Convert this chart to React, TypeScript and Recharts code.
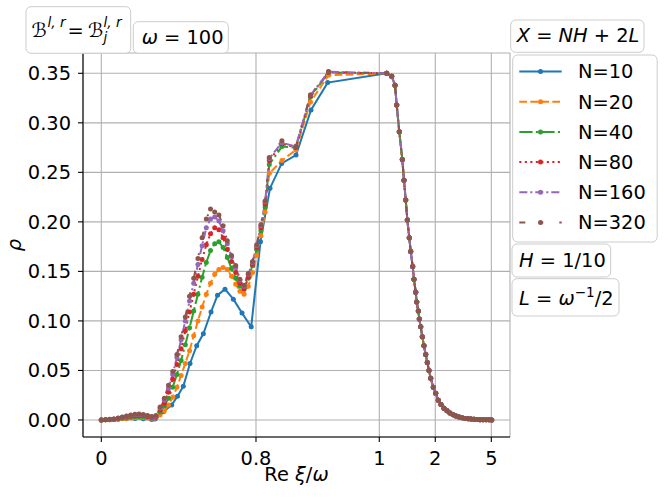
import React from 'react';
import { LineChart, Line, XAxis, YAxis, CartesianGrid } from 'recharts';

const W = 670;
const H = 498;
const FONT = 'DejaVu Sans';
const FS = 19.4;

// axis coordinate: sample slot along the (non-uniform) Re xi / omega grid
const X_MIN = -4.36;
const X_MAX = 97.31;
const Y_MIN = -0.0172;
const Y_MAX = 0.3705;

const xTickSlots = [0, 36.83, 66.19, 79.52, 92.86];
const xTickLabels = ['0', '0.8', '1', '2', '5'];
const yTicks = [0, 0.05, 0.1, 0.15, 0.2, 0.25, 0.3, 0.35];

// fine grid (N >= 20)
const fineSlots = [
  0, 1, 2, 3, 4, 5, 6, 7, 8, 9, 10, 11, 12, 13,
  14, 15, 16, 17, 18, 19, 20, 21, 22, 23, 24, 25, 26,
  27, 28, 29, 30, 31, 32, 33, 34, 35, 36, 37, 38, 39, 40,
  43, 46.3, 49.8, 54.1,
];
// coarse grid (N = 10)
const coarseSlots = [
  0, 2, 4, 6, 8, 10, 12, 12.8, 14.76, 16.76, 18.14, 19.52, 21.12, 22.71,
  24.29, 26.12, 27.67, 29.45, 31.43, 33.5, 35.69, 37.9, 40.17, 42.95, 46.36,
  49.93, 53.9,
];
// common tail (all N coincide)
const tailSlots = [
  67.95, 69.14, 69.93, 70.33, 70.95, 71.67, 72.07, 72.48, 72.86, 73.33, 73.67,
  74.14, 74.45, 74.86, 75.1, 75.48, 75.71, 76.05, 76.43, 76.83, 77.24, 77.62,
  78.02, 78.43, 79.05, 79.62, 80.24, 80.88, 81.6, 82.31, 83.02, 83.74, 84.45,
  85.17, 85.88, 86.6, 87.31, 88.02, 88.74, 89.45, 90.17, 90.88, 91.6, 92.31, 92.95,
];
const tailRho = [
  0.35, 0.347, 0.338, 0.318, 0.291, 0.263, 0.242, 0.222, 0.202, 0.184, 0.17,
  0.155, 0.142, 0.129, 0.119, 0.11, 0.102, 0.094, 0.084, 0.075, 0.066, 0.058,
  0.05, 0.042, 0.033, 0.027, 0.02, 0.0155, 0.0118, 0.0092, 0.007, 0.0052, 0.0039,
  0.0029, 0.0022, 0.0016, 0.0012, 0.0009, 0.0006, 0.0004, 0.0003, 0.0002, 0.0001, 0.0001, 0,
];

const rhoN10 = [
  0, 0.0004, 0.0008, 0.0012, 0.0014, 0.0012, 0.0005, 0.001, 0.0084, 0.015, 0.024,
  0.034, 0.057, 0.075, 0.087, 0.109, 0.126, 0.132, 0.122, 0.108, 0.094, 0.18,
  0.234, 0.259, 0.2674, 0.313, 0.3406,
];
const rhoN20 = [
  0, 0.0001, 0.0002, 0.0004, 0.0008, 0.0012, 0.0016, 0.002, 0.0023, 0.0025, 0.0024, 0.0021, 0.0017, 0.002,
  0.005, 0.009, 0.015, 0.023, 0.033, 0.045, 0.057, 0.07, 0.085, 0.1, 0.114, 0.127, 0.138,
  0.147, 0.152, 0.154, 0.152, 0.145, 0.137, 0.13, 0.127, 0.135, 0.149, 0.166, 0.186, 0.21, 0.249,
  0.262, 0.2725, 0.321, 0.348,
];
const rhoN40 = [
  0, 0.0002, 0.0003, 0.0006, 0.0012, 0.0018, 0.0024, 0.003, 0.0034, 0.0036, 0.0034, 0.003, 0.0024, 0.0026,
  0.008, 0.014, 0.022, 0.033, 0.046, 0.06, 0.076, 0.093, 0.11, 0.127, 0.144, 0.159, 0.171,
  0.178, 0.18, 0.174, 0.164, 0.153, 0.143, 0.135, 0.133, 0.143, 0.156, 0.172, 0.191, 0.215, 0.258,
  0.276, 0.275, 0.326, 0.3507,
];
const rhoN80 = [
  0, 0.0002, 0.0004, 0.0008, 0.0015, 0.0024, 0.0032, 0.0038, 0.0043, 0.0045, 0.0042, 0.0036, 0.0028, 0.0032,
  0.01, 0.017, 0.028, 0.041, 0.056, 0.072, 0.09, 0.109, 0.127, 0.145, 0.162, 0.177, 0.188,
  0.194, 0.192, 0.184, 0.172, 0.16, 0.149, 0.138, 0.132, 0.144, 0.157, 0.174, 0.194, 0.218, 0.262,
  0.279, 0.275, 0.327, 0.351,
];
const rhoN160 = [
  0, 0.0003, 0.0005, 0.001, 0.0018, 0.0028, 0.0038, 0.0046, 0.0052, 0.0055, 0.005, 0.0042, 0.0032, 0.0038,
  0.012, 0.02, 0.032, 0.046, 0.063, 0.081, 0.1, 0.12, 0.138, 0.157, 0.176, 0.194, 0.203,
  0.205, 0.201, 0.191, 0.178, 0.165, 0.154, 0.141, 0.135, 0.147, 0.159, 0.176, 0.196, 0.22, 0.264,
  0.28, 0.276, 0.328, 0.3515,
];
const rhoN320 = [
  0, 0.0003, 0.0006, 0.001, 0.002, 0.003, 0.004, 0.005, 0.0058, 0.006, 0.0055, 0.0045, 0.0035, 0.0045,
  0.013, 0.022, 0.035, 0.049, 0.066, 0.084, 0.104, 0.125, 0.143, 0.163, 0.184, 0.203, 0.213,
  0.21, 0.207, 0.196, 0.181, 0.166, 0.156, 0.142, 0.136, 0.148, 0.16, 0.177, 0.197, 0.221, 0.265,
  0.282, 0.276, 0.328, 0.3517,
];

const seriesNames = ['N=10', 'N=20', 'N=40', 'N=80', 'N=160', 'N=320'];
const seriesColors = ['#1f77b4', '#ff7f0e', '#2ca02c', '#d62728', '#9467bd', '#8c564b'];
const seriesDash = ['', '7.7 3.3', '13.3 3.3 2.1 3.3', '2.1 3.4', '8 3 2 3', '6 16 2 16'];
const seriesSlots = [coarseSlots, fineSlots, fineSlots, fineSlots, fineSlots, fineSlots];
const seriesRho = [rhoN10, rhoN20, rhoN40, rhoN80, rhoN160, rhoN320];

const build = (slots: number[], rho: number[]) =>
  slots.map((x, i) => ({ x, y: rho[i] })).concat(tailSlots.map((x, i) => ({ x, y: tailRho[i] })));

const boxStyle = { fill: '#fff', fillOpacity: 0.8, stroke: '#cccccc', strokeWidth: 1 };

const legendRows = [71.5, 101.7, 131.9, 162.1, 192.3, 222.5];

export default function App() {
  const tickStyle = { fill: '#000', fontSize: FS, fontFamily: FONT };
  return (
    <div style={{ position: 'absolute', left: 0, top: 0, width: W, height: H, background: '#fff' }}>
      <LineChart width={W} height={H} margin={{ top: 53, right: 160, bottom: 0, left: 0 }}>
        <CartesianGrid stroke="#b0b0b0" strokeWidth={1.1} />
        <XAxis
          type="number"
          dataKey="x"
          domain={[X_MIN, X_MAX]}
          allowDataOverflow
          ticks={xTickSlots}
          tickFormatter={(v: number) => xTickLabels[xTickSlots.indexOf(v)] ?? ''}
          height={61}
          tickSize={5}
          tickMargin={9}
          tick={tickStyle}
          tickLine={{ stroke: '#000', strokeWidth: 1.1 }}
          axisLine={{ stroke: '#000', strokeWidth: 1.1 }}
          interval={0}
        />
        <XAxis
          xAxisId="top"
          orientation="top"
          type="number"
          domain={[X_MIN, X_MAX]}
          allowDataOverflow
          tick={false}
          tickLine={false}
          height={0}
          axisLine={{ stroke: '#000', strokeWidth: 1.1 }}
        />
        <YAxis
          type="number"
          domain={[Y_MIN, Y_MAX]}
          allowDataOverflow
          ticks={yTicks}
          tickFormatter={(v: number) => v.toFixed(2)}
          width={83}
          tickSize={5}
          tickMargin={7}
          tick={tickStyle}
          tickLine={{ stroke: '#000', strokeWidth: 1.1 }}
          axisLine={{ stroke: '#000', strokeWidth: 1.1 }}
          interval={0}
        />
        <YAxis
          yAxisId="right"
          orientation="right"
          type="number"
          domain={[Y_MIN, Y_MAX]}
          allowDataOverflow
          tick={false}
          tickLine={false}
          width={0}
          axisLine={{ stroke: '#000', strokeWidth: 1.1 }}
        />
        {seriesNames.map((name, i) => (
          <Line
            key={name}
            name={name}
            data={build(seriesSlots[i], seriesRho[i])}
            dataKey="y"
            type="linear"
            stroke={seriesColors[i]}
            strokeWidth={2}
            strokeDasharray={seriesDash[i] || undefined}
            dot={{ r: 2.5, fill: seriesColors[i], stroke: 'none', strokeWidth: 0 }}
            activeDot={false}
            isAnimationActive={false}
          />
        ))}
      </LineChart>
      <svg
        width={W}
        height={H}
        style={{ position: 'absolute', left: 0, top: 0, pointerEvents: 'none' }}
        fontFamily={FONT}
        fontSize={FS}
      >
        {/* annotation boxes */}
        <rect x={26} y={6.7} width={104.7} height={46.6} rx={5} {...boxStyle} />
        <text x={31.5} y={37}>ℬ</text>
        <text x={47.5} y={27} fontSize={13.6} fontStyle="italic">l, r</text>
        <text x={67.5} y={37}>=</text>
        <text x={88} y={37}>ℬ</text>
        <text x={103.5} y={27} fontSize={13.6} fontStyle="italic">l, r</text>
        <text x={103.5} y={42} fontSize={13.6} fontStyle="italic">j</text>

        <rect x={133.3} y={21.7} width={95} height={31.6} rx={5} {...boxStyle} />
        <text x={141.7} y={44.3}>
          <tspan fontStyle="italic">ω</tspan>
          <tspan> = 100</tspan>
        </text>

        <rect x={510.7} y={20} width={133.3} height={32.3} rx={5} {...boxStyle} />
        <text x={516.7} y={41.7}>
          <tspan fontStyle="italic">X</tspan>
          <tspan> = </tspan>
          <tspan fontStyle="italic">NH</tspan>
          <tspan> + 2</tspan>
          <tspan fontStyle="italic">L</tspan>
        </text>

        {/* legend */}
        <rect x={512.7} y={55} width={144.5} height={187} rx={5} {...boxStyle} />
        {seriesNames.map((name, i) => (
          <g key={name}>
            <line
              x1={519.3}
              x2={561.7}
              y1={legendRows[i]}
              y2={legendRows[i]}
              stroke={seriesColors[i]}
              strokeWidth={2}
              strokeDasharray={seriesDash[i] || undefined}
            />
            <circle cx={540.5} cy={legendRows[i]} r={2.5} fill={seriesColors[i]} />
            <text x={578} y={legendRows[i] + 6.9} fill="#000">{name}</text>
          </g>
        ))}

        <rect x={512} y={244} width={98.7} height={33} rx={5} {...boxStyle} />
        <text x={519} y={266.7}>
          <tspan fontStyle="italic">H</tspan>
          <tspan> = 1/10</tspan>
        </text>

        <rect x={512} y={278.7} width={107} height={37.3} rx={5} {...boxStyle} />
        <text x={519} y={305}>
          <tspan fontStyle="italic">L</tspan>
          <tspan> = </tspan>
          <tspan fontStyle="italic">ω</tspan>
          <tspan fontSize={13.6} dy={-8}>−1</tspan>
          <tspan dy={8}>/2</tspan>
        </text>

        {/* axis labels */}
        <text x={296.5} y={481} textAnchor="middle">
          <tspan>Re </tspan>
          <tspan fontStyle="italic">ξ</tspan>
          <tspan>/</tspan>
          <tspan fontStyle="italic">ω</tspan>
        </text>
        <text transform="translate(21,245) rotate(-90)" textAnchor="middle" fontStyle="italic">ρ</text>
      </svg>
    </div>
  );
}
